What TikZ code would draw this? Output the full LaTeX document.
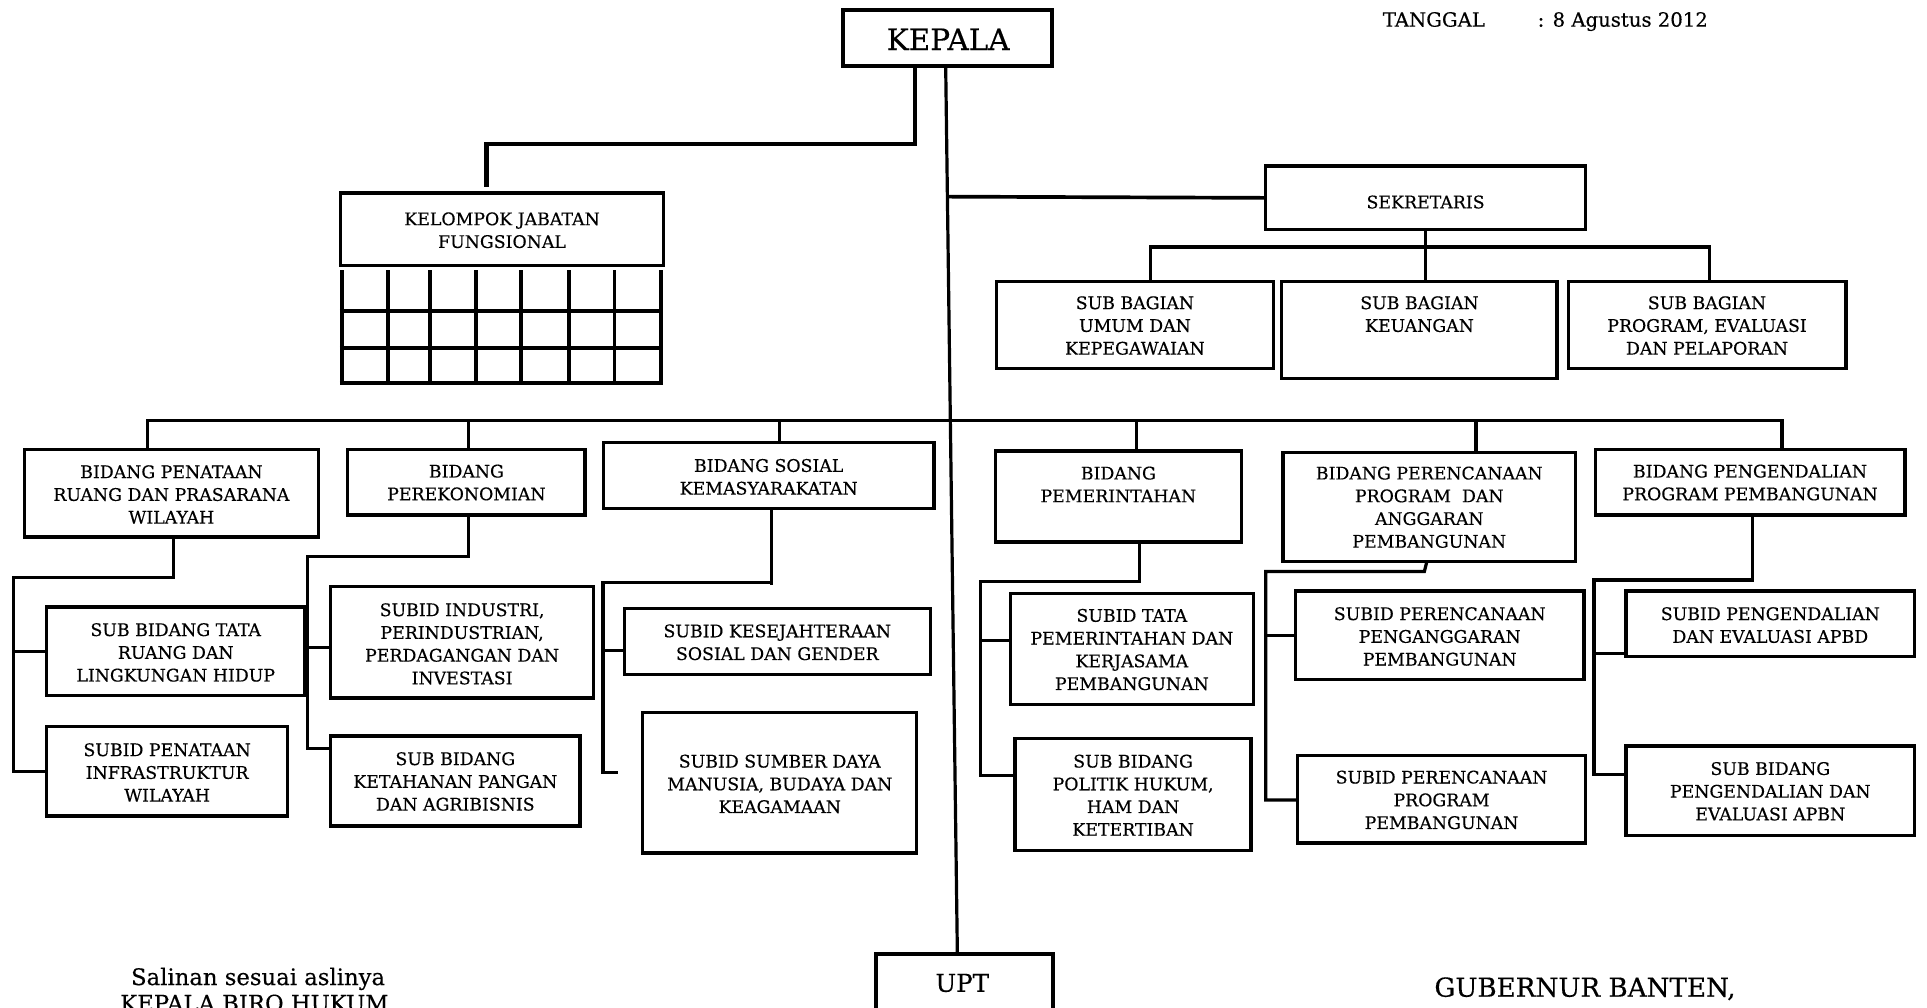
\documentclass[tikz,border=0pt]{standalone}
\usepackage{fontspec}
\setmainfont{DejaVu Serif}[FakeBold=0.4]
\newcommand\bxfont{\fontsize{14.1}{18.5}\selectfont}
\tikzset{
  box/.style={draw, line width=2.7pt, rectangle, inner sep=0pt, outer sep=0pt},
  bt/.style={font=\bxfont, align=center, inner sep=0pt, anchor=north},
  cline/.style={line width=2.6pt},
  cthick/.style={line width=3.6pt},
  cmid/.style={line width=2.6pt},
  gridl/.style={line width=3.2pt},
}
\newcommand\orgb[7]{%
  \node[box, minimum width={(#4-#2)*1pt}, minimum height={(#5-#3)*1pt}] (#1) at ({(#2+#4)/2},{(#3+#5)/2}) {};
  \node[bt] (#1-t) at ({(#2+#4)/2},{#6-5.14}) {#7};
}
\begin{document}
\begin{tikzpicture}[x=1pt, y=-1pt]
\useasboundingbox (0,0) rectangle (1568,819.4);

% top
\node[box, line width=3.2pt, minimum width=170pt, minimum height=46pt] (kep) at (771,31) {};
\node[font=\fontsize{24}{28}\selectfont, anchor=base, inner sep=0pt] (kep-t) at (771.5,40.7) {KEPALA};
\node[font=\fontsize{16}{20}\selectfont, anchor=base west, inner sep=0pt] (tgl) at (1125,21.7) {TANGGAL};
\node[font=\fontsize{16}{20}\selectfont, anchor=base west, inner sep=0pt] (tgl2) at (1251,21.7) {: 8 Agustus 2012};

\orgb{kjf}{277}{157}{540}{216}{177.7}{KELOMPOK JABATAN\\FUNGSIONAL}
\orgb{sek}{1030}{135}{1290}{187}{164}{SEKRETARIS}
\orgb{sb1}{811}{229}{1036}{300}{246}{SUB BAGIAN\\UMUM DAN\\KEPEGAWAIAN}
\orgb{sb2}{1043}{229}{1267}{308}{246}{SUB BAGIAN\\KEUANGAN}
\orgb{sb3}{1276}{229}{1502}{300}{246}{SUB BAGIAN\\PROGRAM, EVALUASI\\DAN PELAPORAN}

% grid under kelompok jabatan fungsional
\foreach \x in {278,316,350,387,424,463,500,538} \draw[gridl] (\x,220) -- (\x,313);
\foreach \y in {253,283,312} \draw[gridl] (276.5,\y) -- (539.5,\y);

% bidang row
\orgb{b1}{20}{366}{259}{437}{383.5}{BIDANG PENATAAN\\RUANG DAN PRASARANA\\WILAYAH}
\orgb{b2}{283}{366}{476}{419}{383}{BIDANG\\PEREKONOMIAN}
\orgb{b3}{491}{360}{760}{414}{378.4}{BIDANG SOSIAL\\KEMASYARAKATAN}
\orgb{b4}{810}{367}{1010}{441}{384.6}{BIDANG\\PEMERINTAHAN}
\orgb{b5}{1044}{368}{1282}{457}{384.6}{BIDANG PERENCANAAN\\PROGRAM\ \ DAN\\ANGGARAN\\PEMBANGUNAN}
\orgb{b6}{1298}{366}{1550}{419}{383}{BIDANG PENGENDALIAN\\PROGRAM PEMBANGUNAN}

% sub bidang
\orgb{s11}{38}{494}{248}{566}{512}{SUB BIDANG TATA\\RUANG DAN\\LINGKUNGAN HIDUP}
\orgb{s12}{38}{591}{234}{664}{609.7}{SUBID PENATAAN\\INFRASTRUKTUR\\WILAYAH}
\orgb{s21}{269}{477}{483}{568}{495.8}{SUBID INDUSTRI,\\PERINDUSTRIAN,\\PERDAGANGAN DAN\\INVESTASI}
\orgb{s22}{269}{599}{472}{672}{617}{SUB BIDANG\\KETAHANAN PANGAN\\DAN AGRIBISNIS}
\orgb{s31}{508}{495}{757}{549}{513}{SUBID KESEJAHTERAAN\\SOSIAL DAN GENDER}
\orgb{s32}{523}{580}{746}{694}{619}{SUBID SUMBER DAYA\\MANUSIA, BUDAYA DAN\\KEAGAMAAN}
\orgb{s41}{822}{483}{1020}{573}{500.4}{SUBID TATA\\PEMERINTAHAN DAN\\KERJASAMA\\PEMBANGUNAN}
\orgb{s42}{826}{601}{1018}{692}{619}{SUB BIDANG\\POLITIK HUKUM,\\HAM DAN\\KETERTIBAN}
\orgb{s51}{1054}{481}{1289}{553}{499}{SUBID PERENCANAAN\\PENGANGGARAN\\PEMBANGUNAN}
\orgb{s52}{1056}{615}{1290}{686}{632}{SUBID PERENCANAAN\\PROGRAM\\PEMBANGUNAN}
\orgb{s61}{1323}{481}{1558}{534}{499}{SUBID PENGENDALIAN\\DAN EVALUASI APBD}
\orgb{s62}{1323}{607}{1558}{680}{625}{SUB BIDANG\\PENGENDALIAN DAN\\EVALUASI APBN}

% UPT
\node[box, line width=3pt, minimum width=144pt, minimum height=80pt] (upt) at (785,816) {};
\node[font=\fontsize{20}{24}\selectfont, anchor=base, inner sep=0pt] (upt-t) at (783,807) {UPT};

% bottom texts
\node[font=\fontsize{18.5}{22}\selectfont, anchor=base, inner sep=0pt] (sal1) at (210,801.5) {Salinan sesuai aslinya};
\node[font=\fontsize{18.5}{22}\selectfont, anchor=base, inner sep=0pt] (sal2) at (207,823) {KEPALA BIRO HUKUM};
\node[font=\fontsize{21.3}{26}\selectfont, anchor=base west, inner sep=0pt] (gub) at (1167,811) {GUBERNUR BANTEN,};

% connectors: kepala
\coordinate (kj1) at (744.6,117);
\coordinate (kj2) at (396,152);
\draw[cthick] (kep.south -| kj1) -- (kj1) -| (kj2);
\draw[cmid] (kep.south -| 769.5,0) -- (upt.north -| 779,0);
\draw[cline, line width=3pt] (770.3,160) -- (sek.west);
\draw[cline, line width=3pt] (sek.south -| 1160,0) -- (sb2.north -| 1160,0);
\coordinate (sbus) at (1160,201);
\draw[cline] (sb1.north -| 936,0) |- (sbus) -| (sb3.north -| 1391,0);

% main bus
\coordinate (busL) at (120,342);
\coordinate (busR) at (1450,342);
\draw[cline] (b1.north -| busL) -- (busL) -- (busR) -- (b6.north -| busR);
\foreach \n/\x in {b2/381, b3/634, b4/924.5, b5/1201} \draw[cline] (\x,342) -- (\n.north -| \x,0);

% column 1
\coordinate (c1) at (11,470);
\draw[cline] (b1.south -| 141,0) |- (c1) |- (s12.west);
\draw[cline] (11,530) -- (s11.west);
% column 2
\coordinate (c2) at (250,453);
\draw[cline] (b2.south -| 381,0) |- (c2) |- (s22.west |- 0,609);
\draw[cline] (250,527) -- (s21.west |- 0,527);
% column 3
\coordinate (c3) at (490.7,473.7);
\coordinate (c3e) at (503,628.5);
\draw[cline] (b3.south -| 628,0) -- (628,476);
\draw[cline] (628,473.7) -- (c3) |- (c3e);
\draw[cline] (490.7,529) -- (s31.west |- 0,529);
% column 4
\coordinate (c4) at (797.5,473);
\draw[cline] (b4.south -| 927,0) |- (c4) |- (s42.west |- 0,631);
\draw[cline] (797.5,521) -- (s41.west |- 0,521);
% column 5
\coordinate (c5) at (1030,465);
\draw[cline] (b5.south -| 1161,0) -- (1159,465) -- (c5) |- (s52.west |- 0,651);
\draw[cline] (1030,517) -- (s51.west |- 0,517);
% column 6
\coordinate (c6) at (1297,472);
\draw[cline] (b6.south -| 1426,0) |- (c6) |- (s62.west |- 0,630);
\draw[cline] (1297,532) -- (s61.west |- 0,532);
\end{tikzpicture}
\end{document}
